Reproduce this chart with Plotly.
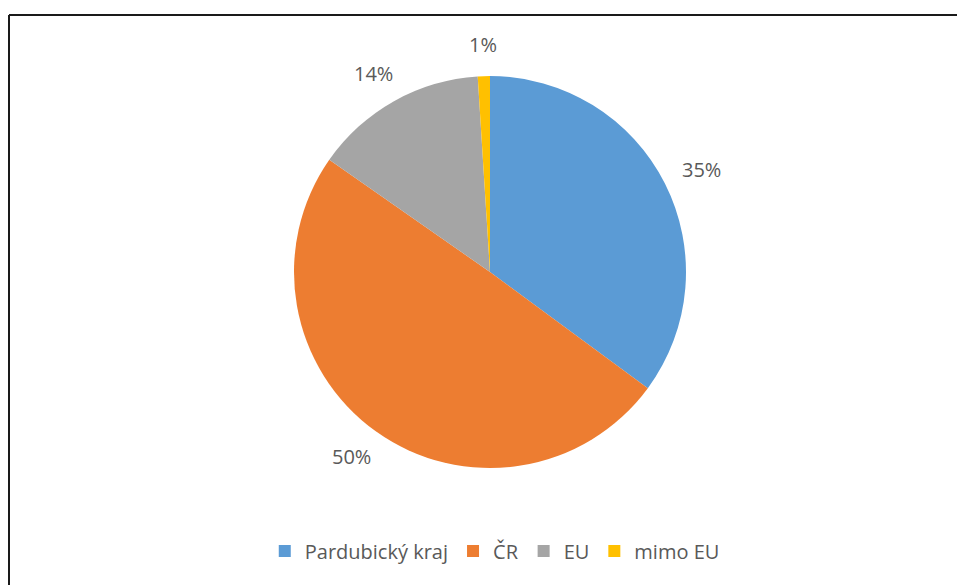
import math
import plotly.graph_objects as go

categories = ["Pardubický kraj", "ČR", "EU", "mimo EU"]
values = [35.1, 49.6, 14.3, 1.0]
colors = ["#5B9BD5", "#ED7D31", "#A5A5A5", "#FFC000"]

W, H = 957, 585
FONT = "Open Sans"
TXT = "#595959"

# pie placement (pixels)
CX, CY, R = 490, 272, 196
dom_x = [(CX - R) / W, (CX + R) / W]
dom_y = [1 - (CY + R) / H, 1 - (CY - R) / H]

fig = go.Figure(go.Pie(
    labels=categories,
    values=values,
    sort=False,
    direction="clockwise",
    rotation=0,
    marker=dict(colors=colors, line=dict(width=0)),
    textinfo="none",
    domain=dict(x=dom_x, y=dom_y),
    hoverinfo="label+percent",
))

# data labels placed along each slice's mid-angle, outside the pie
total = sum(values)
annotations = []
cum = 0.0
for v in values:
    mid = (cum + v / 2) / total * 2 * math.pi
    cum += v
    px = CX + R * 1.21 * math.sin(mid)
    py = CY - R * 1.16 * math.cos(mid)
    annotations.append(dict(
        x=px / W, y=1 - py / H, xref="paper", yref="paper",
        text=f"{round(v / total * 100)}%", showarrow=False,
        xanchor="center", yanchor="middle",
        font=dict(family=FONT, size=20, color=TXT),
    ))

fig.update_layout(
    width=W, height=H,
    margin=dict(l=0, r=0, t=0, b=0),
    paper_bgcolor="white",
    font=dict(family=FONT, color=TXT, size=20),
    showlegend=True,
    legend=dict(
        orientation="h",
        x=0.517, xanchor="center",
        y=1 - 551 / H, yanchor="middle",
        font=dict(size=20, color=TXT, family=FONT),
        itemwidth=30,
        traceorder="normal",
    ),
    annotations=annotations,
    shapes=[
        dict(type="line", xref="paper", yref="paper",
             x0=9 / W, x1=1.0, y0=1 - 15 / H, y1=1 - 15 / H,
             line=dict(color="#1a1a1a", width=2)),
        dict(type="line", xref="paper", yref="paper",
             x0=9 / W, x1=9 / W, y0=0, y1=1 - 15 / H,
             line=dict(color="#1a1a1a", width=2)),
    ],
)

fig.write_html("out.html", config={"displayModeBar": False},
               post_script="document.body.style.margin='0';")
